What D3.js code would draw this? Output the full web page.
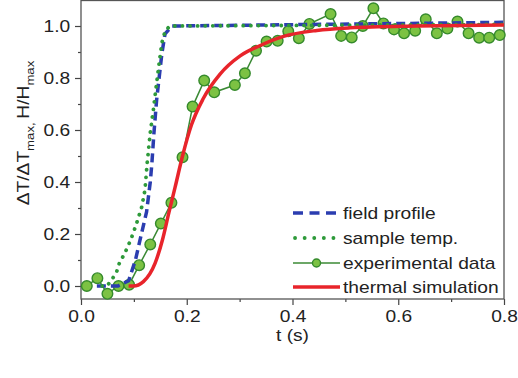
<html>
<head>
<script src="https://d3js.org/d3.v7.min.js"></script>
<style>
body { margin: 0; background: white; }
text { font-family: "Liberation Sans", Arial, sans-serif; fill: #222; }
</style>
</head>
<body>
<svg width="518" height="378"></svg>
<script>
// experimental data (circles)
const expT = [0.011, 0.031, 0.050, 0.071, 0.091, 0.110, 0.131, 0.151, 0.171, 0.192, 0.211, 0.233, 0.252,
              0.291, 0.310, 0.331, 0.351, 0.372, 0.392, 0.412, 0.432,
              0.472, 0.492, 0.512, 0.533, 0.553, 0.572, 0.592, 0.611, 0.632, 0.652, 0.673, 0.693, 0.712,
              0.733, 0.753, 0.772, 0.792];
const expV = [0.0, 0.03, -0.03, 0.0, 0.005, 0.08, 0.16, 0.24, 0.32, 0.495, 0.69, 0.79, 0.745,
              0.773, 0.818, 0.905, 0.94, 0.943, 0.98, 0.953, 1.008,
              1.046, 0.962, 0.956, 1.0, 1.068, 1.01, 0.987, 0.972, 0.982, 1.026, 0.972, 0.99, 1.017,
              0.972, 0.955, 0.955, 0.965];

// field profile (blue dashed)
const fieldT = [0.03, 0.07, 0.09, 0.103, 0.112, 0.124, 0.131, 0.134, 0.138, 0.143, 0.148, 0.153, 0.159, 0.172, 0.8];
const fieldV = [0, 0, 0.02, 0.1, 0.18, 0.285, 0.4, 0.47, 0.59, 0.715, 0.805, 0.895, 0.97, 1.0, 1.014];

// sample temp (green dotted)
const sampleT = [0.04, 0.049, 0.058, 0.0675, 0.0724, 0.083, 0.094, 0.105, 0.115, 0.121, 0.125, 0.131, 0.137, 0.143, 0.148, 0.153, 0.159, 0.168, 0.8];
const sampleV = [0, 0.0, 0.023, 0.055, 0.087, 0.127, 0.177, 0.24, 0.305, 0.37, 0.47, 0.59, 0.68, 0.78, 0.86, 0.935, 0.98, 1.0, 1.006];

// thermal simulation (red)
const simT = [0.09, 0.099, 0.118, 0.14, 0.154, 0.166, 0.178, 0.192, 0.209, 0.231, 0.263, 0.301, 0.339, 0.383, 0.446, 0.509, 0.635, 0.8];
const simV = [0, 0, 0.017, 0.087, 0.177, 0.28, 0.38, 0.5, 0.62, 0.72, 0.815, 0.885, 0.925, 0.96, 0.983, 0.993, 1.0, 1.004];

const xTicks = [0, 0.2, 0.4, 0.6, 0.8];
const yTicks = [0, 0.2, 0.4, 0.6, 0.8, 1.0];
const legendLabels = ["field profile", "sample temp.", "experimental data", "thermal simulation"];

const svg = d3.select("svg");
const mLeft = 81, mRight = 504, mTop = 0, mBottom = 299;
const sx = 1.2; // the original type is wide

const x = d3.scaleLinear().domain([0, 0.8]).range([mLeft, mRight]);
const y = d3.scaleLinear().domain([-0.05, 1.1]).range([mBottom, mTop]);

const blue = "#2b3db0", green = "#2e9a3a", red = "#e8242b";

// axes
svg.append("g").attr("transform", `translate(0,${mBottom})`)
  .call(d3.axisBottom(x).tickValues(xTicks).tickSize(6).tickPadding(6).tickFormat(d3.format(".1f")));
svg.append("g").attr("transform", `translate(0,${mBottom})`)
  .call(d3.axisBottom(x).tickValues([0.1, 0.3, 0.5, 0.7]).tickSize(3).tickFormat(""));
svg.append("g").attr("transform", `translate(${mLeft},0)`)
  .call(d3.axisLeft(y).tickValues(yTicks).tickSize(6).tickPadding(3).tickFormat(d3.format(".1f")));
svg.append("g").attr("transform", `translate(${mLeft},0)`)
  .call(d3.axisLeft(y).tickValues([0.1, 0.3, 0.5, 0.7, 0.9]).tickSize(3).tickFormat(""));

svg.selectAll(".domain").remove();
svg.selectAll(".tick line").attr("stroke", "#444").attr("stroke-width", 1.2);
svg.selectAll(".tick text")
  .style("font-family", "'Liberation Sans', Arial, sans-serif")
  .style("font-size", "16px")
  .attr("fill", "#222")
  .attr("transform", `scale(${sx},1)`);

// frame
svg.append("rect")
  .attr("x", mLeft).attr("y", mTop + 0.5)
  .attr("width", mRight - mLeft).attr("height", mBottom - mTop - 0.5)
  .attr("fill", "none").attr("stroke", "#555").attr("stroke-width", 1.3);

// axis titles
svg.append("text")
  .attr("transform", `translate(${(mLeft + mRight) / 2},341) scale(${sx},1)`)
  .attr("text-anchor", "middle")
  .style("font-size", "16px")
  .text("t (s)");

const yl = svg.append("text")
  .attr("transform", `translate(29,133) rotate(-90) scale(${sx},1)`)
  .attr("text-anchor", "middle")
  .style("font-size", "16px");
yl.append("tspan").text("ΔT/ΔT");
yl.append("tspan").attr("dy", 5).style("font-size", "11px").text("max");
yl.append("tspan").style("font-size", "11px").text(", ");
yl.append("tspan").attr("dy", -5).text("H/H");
yl.append("tspan").attr("dy", 5).style("font-size", "11px").text("max");

// curves
const line = d3.line().x(d => x(d[0])).y(d => y(d[1]));
const smooth = d3.line().x(d => x(d[0])).y(d => y(d[1])).curve(d3.curveMonotoneX);
const plot = svg.append("g");

const expData = d3.zip(expT, expV);
plot.append("path").datum(expData)
  .attr("d", line).attr("fill", "none")
  .attr("stroke", "#3b8a35").attr("stroke-width", 1.5);
plot.selectAll("circle.exp").data(expData).enter().append("circle")
  .attr("class", "exp")
  .attr("cx", d => x(d[0])).attr("cy", d => y(d[1])).attr("r", 5.3)
  .attr("fill", "#7cc243").attr("stroke", "#358a2c").attr("stroke-width", 1.4);

plot.append("path").datum(d3.zip(fieldT, fieldV))
  .attr("d", line).attr("fill", "none")
  .attr("stroke", blue).attr("stroke-width", 3.5)
  .attr("stroke-dasharray", "9,5");

plot.append("path").datum(d3.zip(sampleT, sampleV))
  .attr("d", line).attr("fill", "none")
  .attr("stroke", green).attr("stroke-width", 3.8)
  .attr("stroke-linecap", "round")
  .attr("stroke-dasharray", "0.1,7.5");

plot.append("path").datum(d3.zip(simT, simV))
  .attr("d", smooth).attr("fill", "none")
  .attr("stroke", red).attr("stroke-width", 3.5);

// legend
const lgX1 = 293, lgX2 = 340, lgRows = [213, 238, 263, 287];
const lg = svg.append("g");
lg.append("line").attr("x1", lgX1).attr("x2", lgX2).attr("y1", lgRows[0]).attr("y2", lgRows[0])
  .attr("stroke", blue).attr("stroke-width", 3.5).attr("stroke-dasharray", "10,6.5");
lg.append("line").attr("x1", lgX1 + 2).attr("x2", lgX2).attr("y1", lgRows[1]).attr("y2", lgRows[1])
  .attr("stroke", green).attr("stroke-width", 3.8).attr("stroke-linecap", "round").attr("stroke-dasharray", "0.1,9.5");
lg.append("line").attr("x1", lgX1).attr("x2", lgX2).attr("y1", lgRows[2]).attr("y2", lgRows[2])
  .attr("stroke", "#3b8a35").attr("stroke-width", 1.5);
lg.append("circle").attr("cx", (lgX1 + lgX2) / 2).attr("cy", lgRows[2]).attr("r", 4)
  .attr("fill", "#7cc243").attr("stroke", "#358a2c").attr("stroke-width", 1.4);
lg.append("line").attr("x1", lgX1).attr("x2", lgX2).attr("y1", lgRows[3]).attr("y2", lgRows[3])
  .attr("stroke", red).attr("stroke-width", 3.5);
lg.selectAll("text").data(legendLabels).enter().append("text")
  .attr("transform", (d, i) => `translate(343,${lgRows[i] + 6}) scale(${sx},1)`)
  .style("font-size", "16px")
  .text(d => d);
</script>
</body>
</html>
